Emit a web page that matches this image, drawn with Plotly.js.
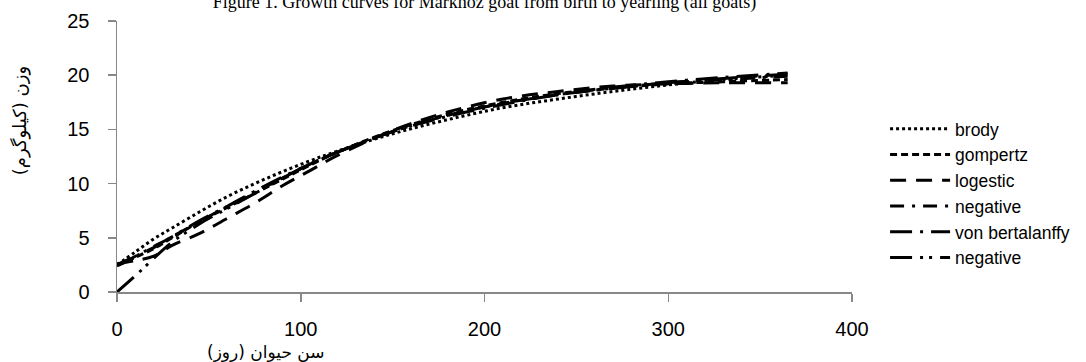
<!DOCTYPE html>
<html>
<head>
<meta charset="utf-8">
<script src="https://cdn.plot.ly/plotly-3.0.1.min.js"></script>
<style>html,body{margin:0;padding:0;background:#fff;}#chart{width:1086px;height:362px;}</style>
</head>
<body>
<div id="chart"></div>
<script>
const days = [0, 10, 20, 30, 45, 60, 75, 90, 105, 120, 150, 180, 210, 240, 270, 300, 330, 365];
const brody = [2.5, 3.7, 4.9, 5.9, 7.4, 8.8, 10.0, 11.1, 12.1, 13.0, 14.6, 15.9, 17.0, 17.8, 18.5, 19.1, 19.6, 20.0];
const gompertz = [2.4, 3.2, 4.0, 5.0, 6.5, 7.8, 9.1, 10.4, 11.7, 12.9, 14.9, 16.4, 17.5, 18.3, 18.8, 19.2, 19.4, 19.6];
const logestic = [2.6, 2.9, 3.3, 4.3, 5.4, 6.8, 8.2, 9.8, 11.2, 12.6, 14.9, 16.6, 17.8, 18.5, 19.0, 19.2, 19.3, 19.3];
const negative1 = [2.5, 3.3, 4.1, 5.1, 6.5, 7.9, 9.2, 10.5, 11.8, 12.9, 14.8, 16.3, 17.4, 18.2, 18.8, 19.3, 19.6, 19.9];
const vonBertalanffy = [2.5, 3.3, 4.2, 5.1, 6.6, 7.9, 9.3, 10.6, 11.8, 12.9, 14.8, 16.2, 17.3, 18.2, 18.9, 19.4, 19.8, 20.2];
const negative2 = [0.0, 1.5, 3.1, 4.6, 6.3, 7.7, 9.1, 10.5, 11.8, 12.9, 14.8, 16.3, 17.4, 18.2, 18.8, 19.3, 19.7, 20.1];

const seriesNames = ['brody', 'gompertz', 'logestic', 'negative', 'von bertalanffy', 'negative'];
const seriesData = [brody, gompertz, logestic, negative1, vonBertalanffy, negative2];
const dashes = ['dot', '7px,4px', '16px,10px', '14px,8px,3px,8px', '22px,8px,3px,8px', '22px,8px,3px,6px,3px,8px'];

const traces = seriesData.map((ys, i) => ({
  x: days, y: ys, name: seriesNames[i], type: 'scatter', mode: 'lines',
  line: {color: '#000', width: 3, dash: dashes[i], shape: 'spline'}
}));

const axisFont = {family: 'Liberation Sans, Arial, sans-serif', size: 20, color: '#000'};
const layout = {
  width: 1086, height: 362,
  margin: {l: 117, r: 234, t: 21, b: 70, pad: 0, autoexpand: false},
  paper_bgcolor: '#fff', plot_bgcolor: '#fff',
  showlegend: true,
  legend: {x: 1.045, y: 0.668, xanchor: 'left', yanchor: 'top',
    font: {family: 'Liberation Sans, Arial, sans-serif', size: 17.5, color: '#000'},
    tracegroupgap: 0, itemwidth: 60, bgcolor: 'rgba(0,0,0,0)'},
  title: {text: 'Figure 1. Growth curves for Markhoz goat from birth to yearling (all goats)',
    font: {family: 'Liberation Serif, Times New Roman, serif', size: 18, color: '#000'},
    x: 0.5, xref: 'paper', xanchor: 'center', y: 0.995, yref: 'container', yanchor: 'middle'},
  xaxis: {range: [0, 400], tickvals: [0, 100, 200, 300, 400], showgrid: false, zeroline: false,
    showline: true, linecolor: '#888', linewidth: 1.5, ticks: 'outside', ticklen: 8, tickcolor: '#888',
    tickwidth: 1.5, tickfont: axisFont, ticklabelstandoff: 10, fixedrange: true, automargin: false},
  yaxis: {range: [0, 25], tickvals: [0, 5, 10, 15, 20, 25], showgrid: false, zeroline: false,
    showline: true, linecolor: '#888', linewidth: 1.5, ticks: 'outside', ticklen: 8, tickcolor: '#888',
    tickwidth: 1.5, tickfont: axisFont, ticklabelstandoff: 14, fixedrange: true, automargin: false},
  annotations: [
    {text: 'وزن (کیلوگرم)', xref: 'paper', yref: 'paper', x: -0.132, y: 0.634, textangle: -90,
      showarrow: false, xanchor: 'center', yanchor: 'middle',
      font: {family: 'DejaVu Sans, Noto Sans, sans-serif', size: 18, color: '#000'}},
    {text: 'سن حیوان (روز)', xref: 'paper', yref: 'paper', x: 0.2024, y: -0.222,
      showarrow: false, xanchor: 'center', yanchor: 'middle',
      font: {family: 'DejaVu Sans, Noto Sans, sans-serif', size: 17, color: '#000'}}
  ]
};
Plotly.newPlot('chart', traces, layout, {displayModeBar: false, staticPlot: true});
</script>
</body>
</html>
